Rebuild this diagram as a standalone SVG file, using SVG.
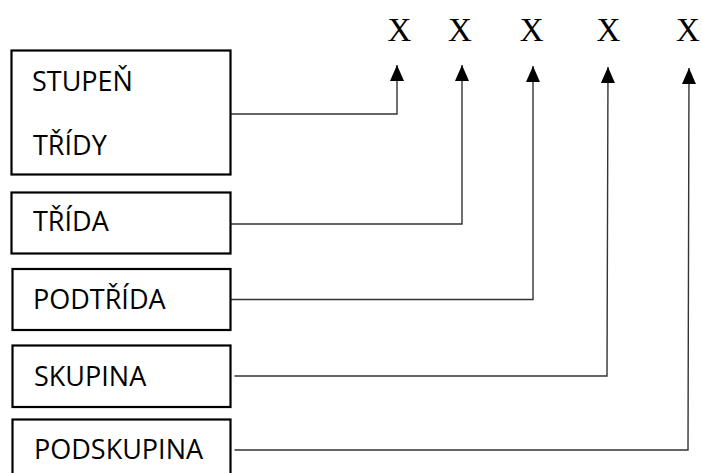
<svg xmlns="http://www.w3.org/2000/svg" width="702" height="473" viewBox="0 0 702 473">
<style>
.box{fill:#fff;stroke:#000;stroke-width:2.2}
.lbl{font-family:"Open Sans","Liberation Sans",sans-serif;font-size:27px;fill:#000}
.x{font-family:"Liberation Serif","Times New Roman",serif;font-size:33px;fill:#000;text-anchor:middle}
.con{fill:none;stroke:#333;stroke-width:1.4}
</style>
<defs>
<marker id="ah" viewBox="0 0 16 14" refX="16" refY="7" markerWidth="16" markerHeight="14" markerUnits="userSpaceOnUse" orient="auto">
<path d="M0,0 L16,7 L0,14 z" fill="#000"/>
</marker>
</defs>
<rect width="702" height="473" fill="#fff"/>
<g id="marks">
<text class="x" x="399.5" y="41">X</text>
<text class="x" x="460" y="41">X</text>
<text class="x" x="531.7" y="41">X</text>
<text class="x" x="608.3" y="41">X</text>
<text class="x" x="688" y="41">X</text>
</g>
<g id="connectors">
<path class="con" d="M231 114 H397 V65" marker-end="url(#ah)"/>
<path class="con" d="M231 224 H462 V65" marker-end="url(#ah)"/>
<path class="con" d="M231 299.5 H533 V66" marker-end="url(#ah)"/>
<path class="con" d="M234.5 376 H607 L608 67" marker-end="url(#ah)"/>
<path class="con" d="M234.5 450 H688 L689 68" marker-end="url(#ah)"/>
</g>
<g id="n1">
<rect class="box" x="11.5" y="50.5" width="219" height="124"/>
<text class="lbl" x="32" y="91">STUPEŇ</text>
<text class="lbl" x="33" y="155">TŘÍDY</text>
</g>
<g id="n2">
<rect class="box" x="11.5" y="192.5" width="219" height="61"/>
<text class="lbl" x="33" y="231">TŘÍDA</text>
</g>
<g id="n3">
<rect class="box" x="12.5" y="269" width="218" height="61"/>
<text class="lbl" x="33" y="309">PODTŘÍDA</text>
</g>
<g id="n4">
<rect class="box" x="12.5" y="345.5" width="218" height="61.5"/>
<text class="lbl" x="34" y="385.7">SKUPINA</text>
</g>
<g id="n5">
<rect class="box" x="12.5" y="419.5" width="218" height="62"/>
<text class="lbl" x="34" y="459">PODSKUPINA</text>
</g>
</svg>
